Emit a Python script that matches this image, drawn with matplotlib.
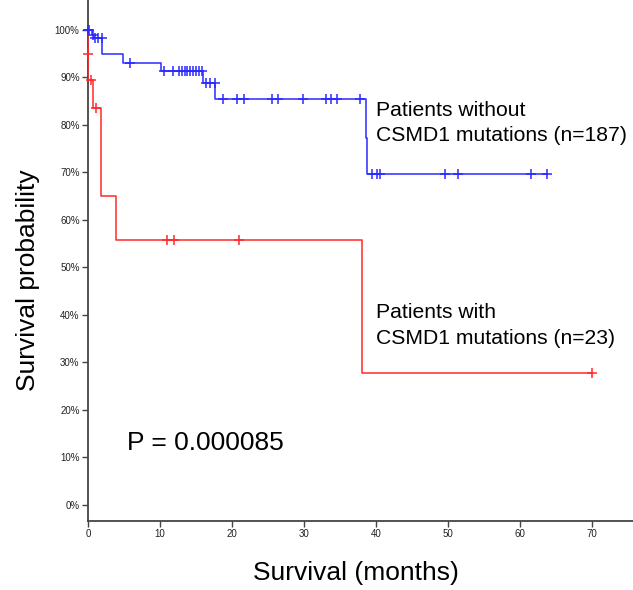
import matplotlib
matplotlib.use("Agg")
from matplotlib import pyplot as plt
from matplotlib.ticker import FuncFormatter

# Kaplan-Meier steps (months, survival fraction)
blue_t = [0, 0.5, 0.9, 1.9, 4.8, 10.2, 16.0, 17.6, 38.6, 38.75, 63.8]
blue_s = [1.0, 0.990, 0.982, 0.949, 0.931, 0.914, 0.888, 0.855, 0.773, 0.697, 0.697]

# censored patients (the + marks)
blue_cens_t = [0.0, 0.15, 0.7, 1.0, 1.4, 1.9, 5.8,
               10.5, 11.8, 12.6, 13.1, 13.5, 13.8, 14.2, 14.6, 15.0, 15.4, 15.8,
               16.4, 17.0, 17.6,
               18.7, 20.7, 21.6, 25.6, 26.4, 29.8, 33.0, 33.7, 34.6, 37.8,
               39.4, 40.1, 40.6, 49.6, 51.4, 61.5, 63.8]
blue_cens_s = [1.0, 1.0, 0.990, 0.982, 0.982, 0.982, 0.931,
               0.914, 0.914, 0.914, 0.914, 0.914, 0.914, 0.914, 0.914, 0.914, 0.914, 0.914,
               0.888, 0.888, 0.888,
               0.855, 0.855, 0.855, 0.855, 0.855, 0.855, 0.855, 0.855, 0.855, 0.855,
               0.697, 0.697, 0.697, 0.697, 0.697, 0.697, 0.697]

red_t = [0, 0, 0.05, 0.7, 1.75, 3.9, 38.0, 70.0]
red_s = [1.0, 0.957, 0.895, 0.835, 0.65, 0.557, 0.278, 0.278]

red_cens_t = [0.0, 0.46, 1.15, 11.0, 12.0, 21.0, 70.0]
red_cens_s = [0.95, 0.895, 0.835, 0.557, 0.557, 0.557, 0.278]

x_ticks = [0, 10, 20, 30, 40, 50, 60, 70]
y_ticks = [0, 0.1, 0.2, 0.3, 0.4, 0.5, 0.6, 0.7, 0.8, 0.9, 1.0]

plt.rcParams['font.family'] = ['Liberation Sans', 'DejaVu Sans']

W, H = 633, 590
fig = plt.figure(figsize=(W / 100, H / 100), dpi=100)
# axes placed in pixels: left spine at x=88, bottom spine at y=521
ax = fig.add_axes([88 / W, (H - 521) / H, (W - 88) / W, 521 / H])

blue = '#2a2aff'
red = '#ff2a2a'

ax.step(blue_t, blue_s, where='post', color=blue, lw=1.1, zorder=3)
ax.plot(blue_cens_t, blue_cens_s, ls='none', marker='+', ms=7, mew=1.1,
        color=blue, clip_on=False, zorder=4)

ax.step(red_t, red_s, where='post', color=red, lw=1.1, zorder=3)
ax.plot(red_cens_t, red_cens_s, ls='none', marker='+', ms=7, mew=1.1,
        color=red, clip_on=False, zorder=4)

ax.set_xlim(0, 75.7)
ax.set_ylim(-0.034, 1.063)
ax.set_xticks(x_ticks)
ax.set_yticks(y_ticks)
ax.yaxis.set_major_formatter(FuncFormatter(lambda v, p: "%d%%" % round(v * 100)))

for s in ['top', 'right']:
    ax.spines[s].set_visible(False)
for s in ['left', 'bottom']:
    ax.spines[s].set_color('#444444')
    ax.spines[s].set_linewidth(1.3)
    ax.spines[s].set_zorder(2)
ax.tick_params(direction='out', length=4, width=1, colors='#444444',
               labelsize=7, labelcolor='#222222', pad=2)

# curve labels
ax.text(40, 0.818, "Patients without", fontsize=15.2, va='baseline')
ax.text(40, 0.766, "CSMD1 mutations (n=187)", fontsize=15.2, va='baseline')
ax.text(40, 0.394, "Patients with", fontsize=15.2, va='baseline')
ax.text(40, 0.339, "CSMD1 mutations (n=23)", fontsize=15.2, va='baseline')
ax.text(5.4, 0.116, "P = 0.000085", fontsize=19, va='baseline')

fig.text(28 / W, 1 - 280 / H, "Survival probability", fontsize=19,
         rotation=90, ha='center', va='center')
fig.text(356 / W, 1 - 573 / H, "Survival (months)", fontsize=19,
         ha='center', va='center')

fig.savefig("out.png", dpi=100)
